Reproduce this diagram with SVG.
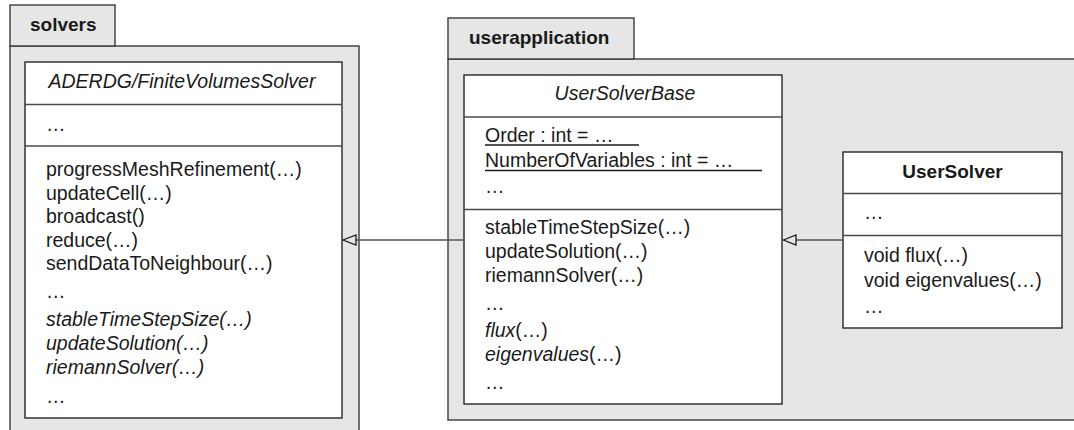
<svg xmlns="http://www.w3.org/2000/svg" width="1074" height="430" viewBox="0 0 1074 430">
<style>
.pkg{fill:#e6e6e6;stroke:#3a3a3a;stroke-width:1.4}
.cls{fill:#ffffff;stroke:#262626;stroke-width:1.4}
.sep{stroke:#4a4a4a;stroke-width:1.4}
text{font-family:"Liberation Sans",Arial,sans-serif;font-size:19.5px;fill:#1a1a1a}
.b{font-weight:bold;font-size:19px}
.i{font-style:italic}
.c{text-anchor:middle}
.u{stroke:#1a1a1a;stroke-width:1.3}
.conn{stroke:#555;stroke-width:1.6;fill:none}
.head{fill:none;stroke:#1a1a1a;stroke-width:1.3}
</style>
<g id="pkg-solvers">
<rect class="pkg" x="10" y="46" width="349" height="400"/>
<rect class="pkg" x="10" y="5" width="105" height="41"/>
<text class="b" x="30" y="31">solvers</text>
</g>
<g id="pkg-userapplication">
<rect class="pkg" x="448" y="59" width="640" height="361"/>
<rect class="pkg" x="448" y="18" width="186" height="41"/>
<text class="b" x="469" y="44">userapplication</text>
</g>
<g id="ADERDGFiniteVolumesSolver">
<rect class="cls" x="25" y="62" width="317" height="356"/>
<line class="sep" x1="25" y1="104.5" x2="342" y2="104.5"/>
<line class="sep" x1="25" y1="146" x2="342" y2="146"/>
<text class="i c" x="182" y="88">ADERDG/FiniteVolumesSolver</text>
<text x="46" y="131">…</text>
<text x="46" y="176">progressMeshRefinement(…)</text>
<text x="46" y="199.5">updateCell(…)</text>
<text x="46" y="223">broadcast()</text>
<text x="46" y="246.5">reduce(…)</text>
<text x="46" y="270">sendDataToNeighbour(…)</text>
<text x="46" y="298">…</text>
<text class="i" x="46" y="326">stableTimeStepSize(…)</text>
<text class="i" x="46" y="350">updateSolution(…)</text>
<text class="i" x="46" y="374">riemannSolver(…)</text>
<text x="46" y="403">…</text>
</g>
<g id="UserSolverBase">
<rect class="cls" x="464" y="75" width="318" height="329"/>
<line class="sep" x1="464" y1="117" x2="782" y2="117"/>
<line class="sep" x1="464" y1="209.5" x2="782" y2="209.5"/>
<text class="i c" x="625" y="100">UserSolverBase</text>
<text x="485" y="142">Order : int = …</text>
<line class="u" x1="485" y1="145" x2="639" y2="145"/>
<text x="485" y="167">NumberOfVariables : int = …</text>
<line class="u" x1="485" y1="170.5" x2="762" y2="170.5"/>
<text x="485" y="193">…</text>
<text x="485" y="234">stableTimeStepSize(…)</text>
<text x="485" y="258">updateSolution(…)</text>
<text x="485" y="282">riemannSolver(…)</text>
<text x="485" y="310">…</text>
<text x="485" y="337"><tspan class="i">flux</tspan>(…)</text>
<text x="485" y="361"><tspan class="i">eigenvalues</tspan>(…)</text>
<text x="485" y="389">…</text>
</g>
<g id="UserSolver">
<rect class="cls" x="843" y="152" width="219" height="176"/>
<line class="sep" x1="843" y1="193.5" x2="1062" y2="193.5"/>
<line class="sep" x1="843" y1="235.5" x2="1062" y2="235.5"/>
<text class="b c" x="952.5" y="178">UserSolver</text>
<text x="864" y="219">…</text>
<text x="864" y="262">void flux(…)</text>
<text x="864" y="287">void eigenvalues(…)</text>
<text x="864" y="313">…</text>
</g>
<g id="connectors">
<line class="conn" x1="356" y1="240" x2="464" y2="240"/>
<path class="head" d="M343,240 L356,235 L356,245 Z"/>
<line class="conn" x1="796" y1="240" x2="843" y2="240"/>
<path class="head" d="M783.5,240 L796,235 L796,245 Z"/>
</g>
</svg>
